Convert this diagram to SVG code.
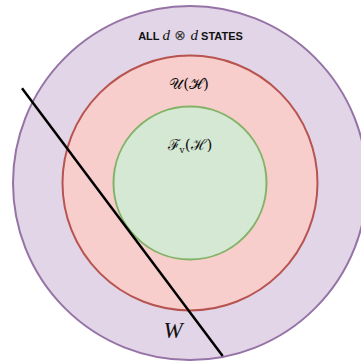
<svg xmlns="http://www.w3.org/2000/svg" width="361" height="362" viewBox="0 0 361 362">
<style>
.cap{font-family:"Liberation Sans",Arial,sans-serif;font-weight:bold;font-size:11px;fill:#111}
.math{font-family:"Liberation Serif","DejaVu Serif",serif;font-style:italic;fill:#111}
.op{font-family:"DejaVu Sans",sans-serif;font-weight:normal;font-style:normal;fill:#333;font-size:14px}
.scr{font-family:"DejaVu Serif","Liberation Serif",serif;font-style:normal;fill:#111;font-size:15px}
</style>
<rect width="361" height="362" fill="#ffffff"/>
<g id="all-states">
<circle cx="190" cy="183" r="177" fill="#e1d5e7" stroke="#9673a6" stroke-width="2"/>
<text x="190.5" y="40" text-anchor="middle"><tspan class="cap">ALL </tspan><tspan class="math" font-size="15">d</tspan><tspan class="op"> ⊗ </tspan><tspan class="math" font-size="15">d</tspan><tspan class="cap"> STATES</tspan></text>
</g>
<g id="U">
<circle cx="190" cy="183" r="127.5" fill="#f8cecc" stroke="#b85450" stroke-width="2"/>
<text x="189" y="89" text-anchor="middle" class="scr">𝒰(ℋ)</text>
</g>
<g id="Fv">
<circle cx="190" cy="183" r="76.5" fill="#d5e8d4" stroke="#82b366" stroke-width="2"/>
<text x="190" y="150" text-anchor="middle" class="scr">ℱ<tspan font-size="9" dy="3" font-style="normal">v</tspan><tspan dy="-3">(ℋ)</tspan></text>
</g>
<g id="connectors">
<line x1="22" y1="88.3" x2="222.7" y2="356" stroke="#000" stroke-width="2.5"/>
</g>
<g id="W">
<text x="173" y="338" text-anchor="middle" class="math" font-size="23">W</text>
</g>
</svg>
